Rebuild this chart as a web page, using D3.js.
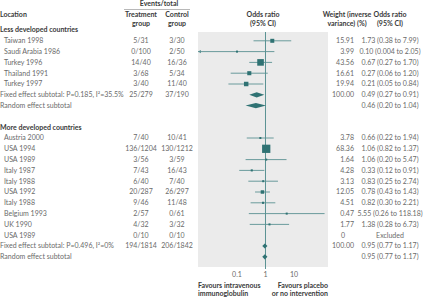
<!DOCTYPE html>
<html><head><meta charset="utf-8">
<script src="https://cdn.jsdelivr.net/npm/d3@7"></script>
<style>
body{margin:0;background:#fff;}
svg text{font-family:Lato,"Open Sans",sans-serif;}
</style></head>
<body><svg id="c" width="424" height="298"></svg>
<script>
// ---- data ----
const groupTitles = ["Less developed countries", "More developed countries"];
const studyNames = [
  ["Taiwan 1998","Saudi Arabia 1986","Turkey 1996","Thailand 1991","Turkey 1997"],
  ["Austria 2000","USA 1994","USA 1989","Italy 1987","Italy 1988","USA 1992","Italy 1988","Belgium 1993","UK 1990","USA 1989"]
];
const treatEvents = [
  ["5/31","0/100","14/40","3/68","3/40"],
  ["7/40","136/1204","3/56","7/43","6/40","20/287","9/46","2/57","4/32","0/10"]
];
const controlEvents = [
  ["3/30","2/50","16/36","5/34","11/40"],
  ["10/41","130/1212","3/59","16/43","7/40","26/297","11/48","0/61","3/32","0/10"]
];
const oddsRatio = [
  [1.73,0.10,0.67,0.27,0.21],
  [0.66,1.06,1.06,0.33,0.83,0.78,0.82,5.55,1.38,null]
];
const ciLow = [
  [0.38,0.004,0.27,0.06,0.05],
  [0.22,0.82,0.20,0.12,0.25,0.43,0.30,0.26,0.28,null]
];
const ciHigh = [
  [7.99,2.05,1.70,1.20,0.84],
  [1.94,1.37,5.47,0.91,2.74,1.43,2.21,118.18,6.73,null]
];
const weights = [
  ["15.91","3.99","43.56","16.61","19.94"],
  ["3.78","68.36","1.64","4.28","3.13","12.05","4.51","0.47","1.77","0"]
];
const orText = [
  ["1.73 (0.38 to 7.99)","0.10 (0.004 to 2.05)","0.67 (0.27 to 1.70)","0.27 (0.06 to 1.20)","0.21 (0.05 to 0.84)"],
  ["0.66 (0.22 to 1.94)","1.06 (0.82 to 1.37)","1.06 (0.20 to 5.47)","0.33 (0.12 to 0.91)","0.83 (0.25 to 2.74)","0.78 (0.43 to 1.43)","0.82 (0.30 to 2.21)","5.55 (0.26 to 118.18)","1.38 (0.28 to 6.73)","Excluded"]
];
const fixedLabel = ["Fixed effect subtotal: P=0.185, I²=35.5%","Fixed effect subtotal: P=0.496, I²=0%"];
const fixedTreat = ["25/279","194/1814"];
const fixedControl = ["37/190","206/1842"];
const fixedOR = [[0.49,0.27,0.91],[0.95,0.77,1.17]];
const fixedWeight = ["100.00","100.00"];
const fixedText = ["0.49 (0.27 to 0.91)","0.95 (0.77 to 1.17)"];
const randomOR = [[0.46,0.20,1.04],[0.95,0.77,1.17]];
const randomText = ["0.46 (0.20 to 1.04)","0.95 (0.77 to 1.17)"];
const axisTicks = [0.1, 1, 10];
const axisTickLabels = ["0.1","1","10"];

// ---- layout ----
const svg = d3.select("#c");
const FS = 7;
const cText = "#6a6a6a", cHead = "#3a3a3a", cMark = "#2f7273", cLine = "#5b9293", cPanel = "#ebebeb";
const panel = {x0:198, x1:328, y0:32, y1:267};
const x = d3.scaleLog().domain([0.00428, 156]).range([panel.x0, panel.x1]);
const y = d3.scaleLinear().domain([0, 21]).range([30, 256.8]);
const colTreat = 141, colCtrl = 177, colW = 354, colOR = 390;

svg.append("rect").attr("x",panel.x0).attr("y",panel.y0).attr("width",panel.x1-panel.x0).attr("height",panel.y1-panel.y0).attr("fill",cPanel);

function txt(xp, yp, s, opt={}) {
  return svg.append("text").attr("x",xp).attr("y",yp).attr("dy","0.35em")
    .attr("font-size",opt.size||FS).attr("fill",opt.fill||cText)
    .attr("font-weight",opt.bold?"bold":"normal")
    .attr("text-anchor",opt.anchor||"start").text(s);
}

// headers
txt(0,15,"Location",{fill:cHead,bold:true});
txt(159,4,"Events/total",{fill:cHead,bold:true,anchor:"middle"});
svg.append("line").attr("x1",124).attr("x2",190).attr("y1",9.5).attr("y2",9.5).attr("stroke","#999").attr("stroke-width",0.7);
txt(colTreat,15,"Treatment",{fill:cHead,bold:true,anchor:"middle"});
txt(colTreat,24,"group",{fill:cHead,bold:true,anchor:"middle"});
txt(colCtrl,15,"Control",{fill:cHead,bold:true,anchor:"middle"});
txt(colCtrl,24,"group",{fill:cHead,bold:true,anchor:"middle"});
txt(263,15,"Odds ratio",{fill:cHead,bold:true,anchor:"middle"});
txt(263,24,"(95% CI)",{fill:cHead,bold:true,anchor:"middle"});
txt(347,15,"Weight (inverse",{fill:cHead,bold:true,anchor:"middle"});
txt(347,24,"variance) (%)",{fill:cHead,bold:true,anchor:"middle"});
txt(colOR,15,"Odds ratio",{fill:cHead,bold:true,anchor:"middle"});
txt(colOR,24,"(95% CI)",{fill:cHead,bold:true,anchor:"middle"});

// vertical line at 1
svg.append("line").attr("x1",x(1)).attr("x2",x(1)).attr("y1",panel.y0).attr("y2",panel.y1).attr("stroke",cLine).attr("stroke-width",1);

const diamondH = 2.6;
function diamond(v, yp) {
  const [m,l,h] = v;
  svg.append("path").attr("d",`M${x(l)},${yp}L${x(m)},${yp-diamondH}L${x(h)},${yp}L${x(m)},${yp+diamondH}Z`).attr("fill",cMark);
}

let row = 0;
for (let g=0; g<2; g++) {
  txt(0, y(row), groupTitles[g], {fill:cHead,bold:true});
  row++;
  studyNames[g].forEach((name,i) => {
    const yp = y(row);
    txt(4, yp, name);
    txt(colTreat, yp, treatEvents[g][i], {anchor:"middle"});
    txt(colCtrl, yp, controlEvents[g][i], {anchor:"middle"});
    const w = weights[g][i];
    if (w.indexOf(".")<0) txt(colW-9, yp, w, {anchor:"end"}); else txt(colW, yp, w, {anchor:"end"});
    txt(colOR, yp, orText[g][i], {anchor:"middle"});
    const or = oddsRatio[g][i];
    if (or !== null) {
      const lo = Math.max(ciLow[g][i], x.domain()[0]);
      const hi = Math.min(ciHigh[g][i], x.domain()[1]);
      svg.append("line").attr("x1",x(lo)).attr("x2",x(hi)).attr("y1",yp).attr("y2",yp).attr("stroke",cLine).attr("stroke-width",0.9);
      if (ciLow[g][i] < x.domain()[0]) {
        const ax = x(x.domain()[0]);
        svg.append("path").attr("d",`M${ax},${yp}L${ax+3},${yp-1.6}L${ax+3},${yp+1.6}Z`).attr("fill",cLine);
      }
      const s = Math.max(2, Math.sqrt(+w));
      svg.append("rect").attr("x",x(or)-s/2).attr("y",yp-s/2).attr("width",s).attr("height",s).attr("fill",cMark);
    }
    row++;
  });
  let yp = y(row);
  txt(0, yp, fixedLabel[g]);
  txt(colTreat, yp, fixedTreat[g], {anchor:"middle"});
  txt(colCtrl, yp, fixedControl[g], {anchor:"middle"});
  txt(colW, yp, fixedWeight[g], {anchor:"end"});
  txt(colOR, yp, fixedText[g], {anchor:"middle"});
  diamond(fixedOR[g], yp);
  row++;
  yp = y(row);
  txt(0, yp, "Random effect subtotal");
  txt(colOR, yp, randomText[g], {anchor:"middle"});
  diamond(randomOR[g], yp);
  row += 2;
}

// axis tick labels
axisTicks.forEach((t,i)=> txt(x(t), 275, axisTickLabels[i], {anchor:"middle"}));
svg.append("line").attr("x1",x(1)).attr("x2",x(1)).attr("y1",panel.y1).attr("y2",panel.y1+2).attr("stroke",cLine);

txt(panel.x0, 285.5, "Favours intravenous", {fill:cHead,bold:true});
txt(panel.x0, 293.5, "immunoglobulin", {fill:cHead,bold:true});
txt(panel.x1, 285.5, "Favours placebo", {fill:cHead,bold:true,anchor:"end"});
txt(panel.x1, 293.5, "or no intervention", {fill:cHead,bold:true,anchor:"end"});
</script></body></html>
